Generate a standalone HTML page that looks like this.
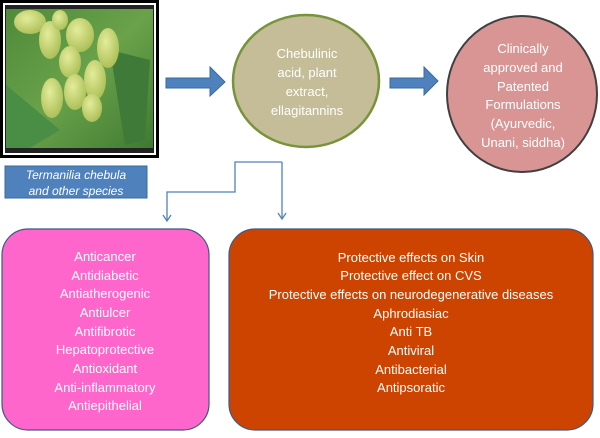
<!DOCTYPE html>
<html><head><meta charset="utf-8"><style>
html,body{margin:0;padding:0;background:#fff;}
svg text{font-family:"Liberation Sans",sans-serif;fill:#fff;}
</style></head><body>
<svg width="600" height="433" viewBox="0 0 600 433" xmlns="http://www.w3.org/2000/svg">
<defs>
<linearGradient id="bg" x1="0" y1="0" x2="1" y2="1"><stop offset="0" stop-color="#4f8a3a"/><stop offset="0.5" stop-color="#6aa24a"/><stop offset="1" stop-color="#3f7a32"/></linearGradient>
<radialGradient id="fr" cx="0.4" cy="0.35" r="0.7"><stop offset="0" stop-color="#e4ec9a"/><stop offset="1" stop-color="#a9bd55"/></radialGradient>
</defs>
<!-- photo -->
<rect x="0" y="0" width="159" height="158" fill="#000"/>
<rect x="3" y="3" width="153" height="152" fill="#fff"/>
<rect x="5" y="5" width="149" height="148" fill="#222"/>
<rect x="6" y="9" width="147" height="139" fill="url(#bg)"/>
<path d="M110 50 L150 60 L145 140 L125 145 Z" fill="#3f7a38"/>
<path d="M6 85 L60 130 L30 148 L6 148 Z" fill="#4a8d45"/>
<ellipse cx="30" cy="22" rx="16" ry="12" fill="url(#fr)"/>
<ellipse cx="50" cy="40" rx="11" ry="19" fill="url(#fr)"/>
<ellipse cx="80" cy="35" rx="14" ry="17" fill="url(#fr)"/>
<ellipse cx="108" cy="48" rx="11" ry="20" fill="url(#fr)"/>
<ellipse cx="70" cy="62" rx="11" ry="16" fill="url(#fr)"/>
<ellipse cx="95" cy="80" rx="11" ry="20" fill="url(#fr)"/>
<ellipse cx="52" cy="98" rx="11" ry="20" fill="url(#fr)"/>
<ellipse cx="75" cy="92" rx="11" ry="18" fill="url(#fr)"/>
<ellipse cx="92" cy="108" rx="10" ry="14" fill="url(#fr)"/>
<ellipse cx="60" cy="20" rx="8" ry="10" fill="url(#fr)"/>
<!-- label -->
<rect x="5" y="166" width="142" height="32" fill="#4f81bd" stroke="#3a6aa0"/>
<text x="76" y="179" font-size="12" font-style="italic" text-anchor="middle">Termanilia chebula</text>
<text x="76" y="195" font-size="12" font-style="italic" text-anchor="middle">and other species</text>
<!-- arrows -->
<path d="M166 78 H210 V67 L225 82 L210 96 V88 H166 Z" fill="#4f81bd" stroke="#3a6aa0"/>
<path d="M390 78 H424 V67 L438 81 L424 95 V88 H390 Z" fill="#4f81bd" stroke="#3a6aa0"/>
<!-- circles -->
<ellipse cx="306" cy="81" rx="73" ry="66" fill="#c4bd97" stroke="#77933c" stroke-width="2.5"/>
<text font-size="13" text-anchor="middle"><tspan x="307" y="58">Chebulinic</tspan><tspan x="307" y="77">acid, plant</tspan><tspan x="307" y="96">extract,</tspan><tspan x="307" y="115">ellagitannins</tspan></text>
<ellipse cx="522" cy="94" rx="75" ry="78" fill="#d99594" stroke="#404040" stroke-width="2"/>
<text font-size="13" text-anchor="middle"><tspan x="523" y="53">Clinically</tspan><tspan x="523" y="72">approved and</tspan><tspan x="523" y="91">Patented</tspan><tspan x="523" y="109">Formulations</tspan><tspan x="523" y="128">(Ayurvedic,</tspan><tspan x="523" y="147">Unani, siddha)</tspan></text>
<!-- connectors -->
<g stroke="#4f81bd" stroke-width="1.3" fill="none">
<path d="M282 162 H235 V192 H167 V220"/>
<path d="M282 162 V218"/>
<path d="M163 215 L167 221 L171 215"/>
<path d="M278 213 L282 219 L286 213"/>
</g>
<!-- boxes -->
<rect x="2" y="229" width="207" height="201" rx="26" fill="#ff66cc" stroke="#3a5a8a" stroke-width="1.2"/>
<text font-size="13" text-anchor="middle"><tspan x="105" y="261">Anticancer</tspan><tspan x="105" y="280">Antidiabetic</tspan><tspan x="105" y="298">Antiatherogenic</tspan><tspan x="105" y="317">Antiulcer</tspan><tspan x="105" y="336">Antifibrotic</tspan><tspan x="105" y="354">Hepatoprotective</tspan><tspan x="105" y="373">Antioxidant</tspan><tspan x="105" y="392">Anti-inflammatory</tspan><tspan x="105" y="410">Antiepithelial</tspan></text>
<rect x="229" y="229" width="364" height="201" rx="26" fill="#cc4400" stroke="#3a5a8a" stroke-width="1.2"/>
<text font-size="13" text-anchor="middle"><tspan x="411" y="262">Protective effects on Skin</tspan><tspan x="411" y="280">Protective effect on CVS</tspan><tspan x="411" y="299">Protective effects on neurodegenerative diseases</tspan><tspan x="411" y="318">Aphrodiasiac</tspan><tspan x="411" y="336">Anti TB</tspan><tspan x="411" y="355">Antiviral</tspan><tspan x="411" y="374">Antibacterial</tspan><tspan x="411" y="392">Antipsoratic</tspan></text>
</svg>
</body></html>
